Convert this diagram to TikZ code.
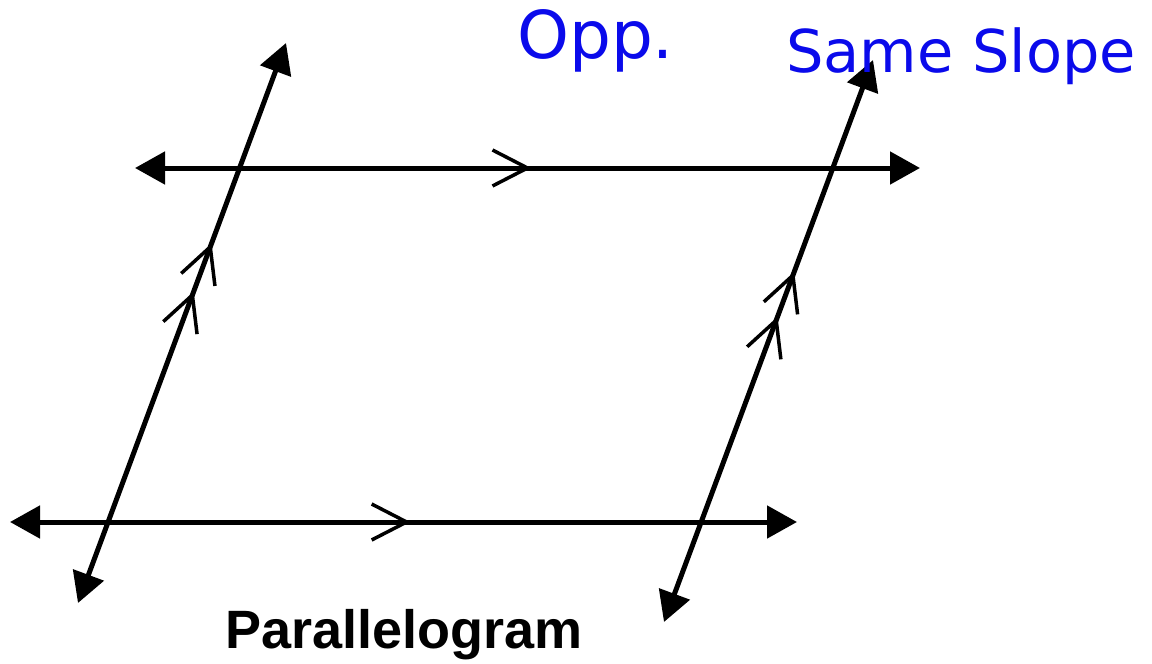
\documentclass[tikz,border=0pt]{standalone}
\usepackage{fontspec}
\setmainfont{Liberation Sans}
\newfontfamily\penfont{DejaVu Sans}
\usepackage{xcolor}
\definecolor{cLine}{HTML}{000000}
\definecolor{cPen}{HTML}{0A0AEB}
\usetikzlibrary{arrows.meta,decorations.markings}
\tikzset{
  line-both/.style={<->,>={Triangle[length=30pt,width=32pt]},
    line width=5pt,draw=cLine},
  % one chevron or two chevrons on a line, tip at the given fraction
  chev-one/.style={postaction={decorate},decoration={markings,
    mark=at position #1 with {\draw[-,line width=3.5pt] (-35,18) -- (0,0) -- (-35,-18);}}},
  chev-two/.style 2 args={postaction={decorate},decoration={markings,
    mark=at position #1 with {\draw[-,line width=3.5pt] (-35,18) -- (0,0) -- (-35,-18);},
    mark=at position #2 with {\draw[-,line width=3.5pt] (-35,18) -- (0,0) -- (-35,-18);}}},
  pen-text/.style={text=cPen,inner sep=0pt},
  title-text/.style={inner sep=0pt,font=\bfseries\fontsize{54}{60}\selectfont},
}
\begin{document}
\begin{tikzpicture}[x=1pt,y=-1pt]
  \useasboundingbox (0,0) rectangle (1152,664);
  % end points of the four lines
  \coordinate (top-l) at (135,168);
  \coordinate (top-r) at (920,168);
  \coordinate (bot-l) at (10,522);
  \coordinate (bot-r) at (797,522);
  \coordinate (lft-b) at (78,603);
  \coordinate (lft-t) at (286,43);
  \coordinate (rgt-b) at (664,622);
  \coordinate (rgt-t) at (873,60);
  \draw[line-both,chev-one=0.5] (top-l) -- (top-r);
  \draw[line-both,chev-one=0.504] (bot-l) -- (bot-r);
  \draw[line-both,chev-two={0.55}{0.636}] (lft-b) -- (lft-t);
  \draw[line-both,chev-two={0.537}{0.617}] (rgt-b) -- (rgt-t);
  \node[title-text,anchor=base] (title) at (404,648) {Parallelogram};
  \node[pen-text,anchor=base west,font=\penfont\fontsize{66}{70}\selectfont]
    (opp) at (517,58) {Opp.};
  \node[pen-text,anchor=base west,font=\penfont\fontsize{59}{64}\selectfont]
    (slope) at (786,72) {Same Slope};
\end{tikzpicture}
\end{document}
